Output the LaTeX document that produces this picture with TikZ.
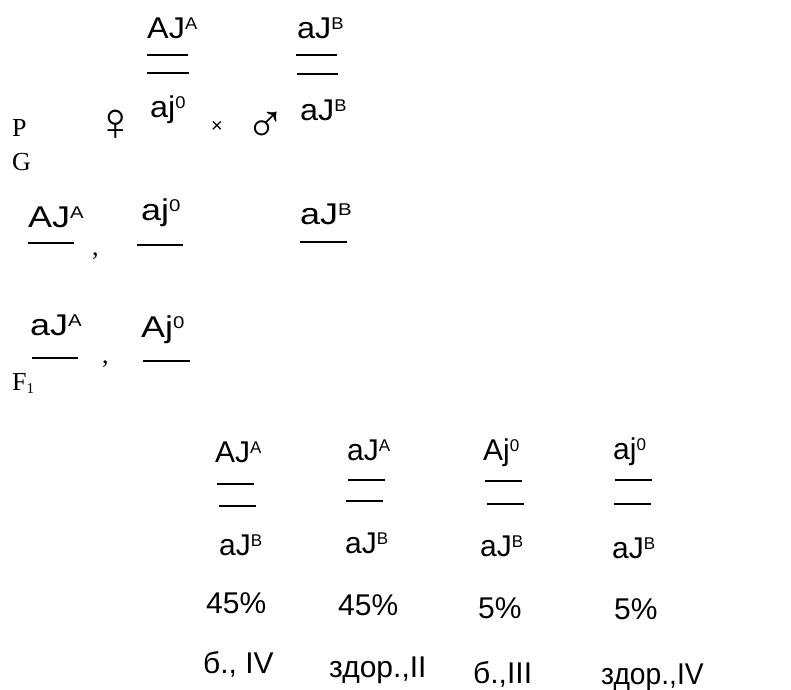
\documentclass[tikz,border=0pt]{standalone}
\usepackage{graphicx}
\usepackage{fontspec}
\setmainfont{Liberation Sans}
\newfontfamily\seriffam{Liberation Serif}
\newcommand\gsup[1]{\raisebox{9pt}{\fontsize{17}{17}\selectfont #1}}
\newcommand\wideA[1]{\scalebox{1.2}[1]{#1}}
\newcommand\wideB[1]{\scalebox{1.08}[1]{#1}}
\begin{document}
\begin{tikzpicture}[x=1pt,y=-1pt,
  gt/.style={anchor=base west, inner sep=0pt, font=\fontsize{30}{30}\selectfont},
  lab/.style={anchor=base west, inner sep=0pt, font=\seriffam\fontsize{26}{26}\selectfont},
  sym/.style={anchor=center, inner sep=0pt, font=\fontsize{54}{54}\selectfont},
  bar/.style={line width=1.5pt}]
\useasboundingbox (0,0) rectangle (791,689);
% P row
\node[gt] (p1t) at (147,38) {\wideB{AJ\gsup{A}}};
\draw[bar] (147,55) -- (188,55);
\draw[bar] (147,73) -- (189,73);
\node[gt] (p1b) at (150,117) {\wideB{aj\gsup{0}}};
\node[gt] (p2t) at (297,38) {\wideB{aJ\gsup{B}}};
\draw[bar] (296,55) -- (337,55);
\draw[bar] (297,74) -- (338,74);
\node[gt] (p2b) at (300,120) {\wideB{aJ\gsup{B}}};
\node[lab] (P) at (12,136) {P};
\node[sym] (fem) at (116,125) {♀};
\node[anchor=center, inner sep=0pt, font=\fontsize{20}{20}\selectfont] (cross) at (217,127) {×};
\node[sym] (mal) at (266,127) {♂};
\node[lab] (G) at (12,170) {G};
% gametes
\node[gt] (g1) at (28,227) {\wideA{AJ\gsup{A}}};
\draw[bar] (28,243) -- (74,243);
\node[lab] (c1) at (92,255) {,};
\node[gt] (g2) at (141,220) {\wideA{aj\gsup{0}}};
\draw[bar] (137,245) -- (183,245);
\node[gt] (g3) at (300,224) {\wideA{aJ\gsup{B}}};
\draw[bar] (300,242) -- (347,242);
\node[gt] (g4) at (30,335) {\wideA{aJ\gsup{A}}};
\draw[bar] (32,358) -- (78,358);
\node[lab] (c2) at (102,363) {,};
\node[gt] (g5) at (141,337) {\wideA{Aj\gsup{0}}};
\draw[bar] (143,361) -- (190,361);
\node[lab] (F) at (12,390) {F\raisebox{-3pt}{\fontsize{15}{15}\selectfont 1}};
% F1 columns
\node[gt] (f1t) at (215,462) {AJ\gsup{A}};
\draw[bar] (217,484) -- (254,484);
\draw[bar] (219,506) -- (256,506);
\node[gt] (f1b) at (219,555) {aJ\gsup{B}};
\node[gt] (f1p) at (206,613) {45\%};
\node[gt] (f1d) at (203,673) {б., IV};
\node[gt] (f2t) at (347,460) {aJ\gsup{A}};
\draw[bar] (348,480) -- (385,480);
\draw[bar] (346,501) -- (383,501);
\node[gt] (f2b) at (345,553) {aJ\gsup{B}};
\node[gt] (f2p) at (338,615) {45\%};
\node[gt] (f2d) at (329,677) {здор.,II};
\node[gt] (f3t) at (483,460) {Aj\gsup{0}};
\draw[bar] (485,481) -- (522,481);
\draw[bar] (487,504) -- (524,504);
\node[gt] (f3b) at (480,556) {aJ\gsup{B}};
\node[gt] (f3p) at (478,618) {5\%};
\node[gt] (f3d) at (473,683) {б.,III};
\node[gt] (f4t) at (613,459) {aj\gsup{0}};
\draw[bar] (615,480) -- (652,480);
\draw[bar] (614,504) -- (651,504);
\node[gt] (f4b) at (612,558) {aJ\gsup{B}};
\node[gt] (f4p) at (614,619) {5\%};
\node[gt] (f4d) at (601,684) {\scalebox{0.94}[1]{здор.,IV}};
\end{tikzpicture}
\end{document}
